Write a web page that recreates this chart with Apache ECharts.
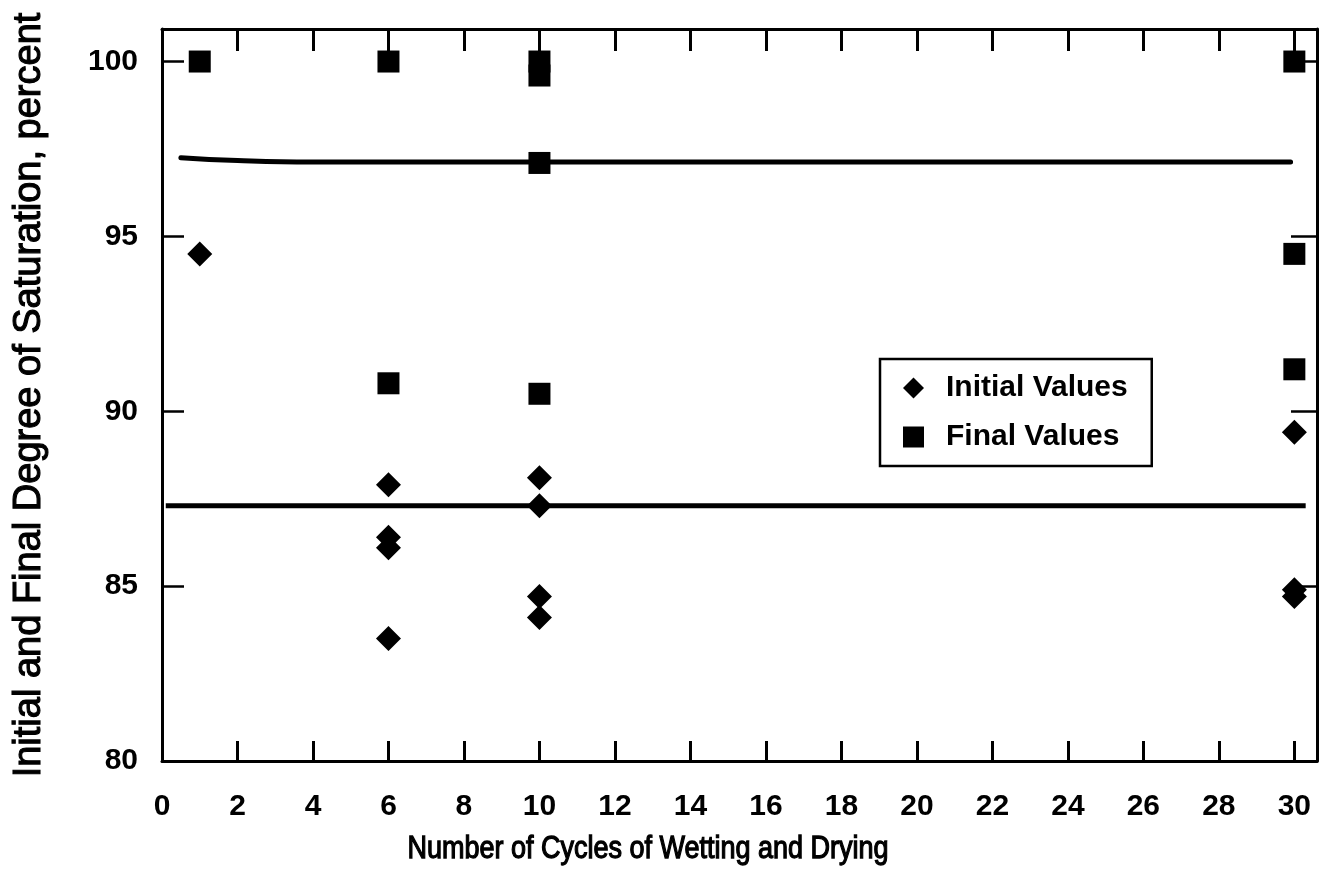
<!DOCTYPE html>
<html>
<head>
<meta charset="utf-8">
<title>Degree of Saturation vs. Wetting and Drying Cycles</title>
<script src="https://cdn.jsdelivr.net/npm/echarts@6/dist/echarts.min.js"></script>
<style>
  html, body { margin: 0; padding: 0; background: #fff; }
  #chart { width: 1322px; height: 881px; }
</style>
</head>
<body>
<div id="chart"></div>
<script>
// Number of wetting/drying cycles and measured degree of saturation (percent)
const initialX = [1, 6, 6, 6, 6, 10, 10, 10, 10, 30, 30, 30];
const initialY = [94.5, 87.9, 86.4, 86.1, 83.5, 88.1, 87.3, 84.7, 84.1, 89.4, 84.9, 84.7];

const finalX = [1, 6, 6, 10, 10, 10, 10, 30, 30, 30];
const finalY = [100, 100, 90.8, 100, 99.6, 97.1, 90.5, 100, 94.5, 91.2];

// Average lines drawn across the plot
const finalMeanLineX = [0.5, 2, 4, 29.9];
const finalMeanLineY = [97.25, 97.17, 97.13, 97.13];
const initialMeanLineX = [0.1, 30.3];
const initialMeanLineY = [87.3, 87.3];

// Axis ranges and tick steps
const xRange = [0, 30.6];
const xStep = 2;
const yRange = [80, 100.93];
const yStep = 5;

const seriesNames = ['Initial Values', 'Final Values'];
const xTitle = 'Number of Cycles of Wetting and Drying';
const yTitle = 'Initial and Final Degree of Saturation, percent';

const pairs = (xs, ys) => xs.map((x, i) => [x, ys[i]]);

const FONT = '"Liberation Sans", Arial, Helvetica, sans-serif';
const INK = '#000';

const frameAxis = (extra) => Object.assign({
  type: 'value',
  splitLine: { show: false },
  axisLine: { show: true, onZero: false, lineStyle: { color: INK, width: 3 } },
  axisTick: { show: true, inside: true, length: 21, lineStyle: { color: INK, width: 3 } }
}, extra);

const tickLabel = {
  show: true, showMaxLabel: false,
  fontFamily: FONT, fontWeight: 'bold', fontSize: 30, color: INK
};

const chart = echarts.init(document.getElementById('chart'), null, { renderer: 'canvas' });

chart.setOption({
  backgroundColor: '#fff',
  animation: false,
  textStyle: { fontFamily: FONT, color: INK },
  grid: { left: 162, top: 29, right: 5, bottom: 120, containLabel: false },
  // x-axis title, set slightly left of the plot centre and drawn a little taller
  graphic: [
    {
      type: 'text',
      x: 648,
      y: 850,
      scaleY: 1.14,
      silent: true,
      style: {
        text: xTitle,
        fontFamily: FONT,
        fontWeight: 'normal',
        fontSize: 27,
        fill: INK,
        stroke: INK,
        lineWidth: 1.1,
        align: 'center',
        verticalAlign: 'middle'
      }
    }
  ],
  legend: {
    orient: 'vertical',
    left: 880,
    top: 359,
    padding: [14, 24, 14, 23],
    itemGap: 19,
    itemWidth: 21,
    itemHeight: 21,
    borderColor: INK,
    borderWidth: 2.5,
    borderRadius: 0,
    backgroundColor: '#fff',
    selectedMode: false,
    textStyle: {
      fontFamily: FONT, fontWeight: 'bold', fontSize: 30, color: INK,
      lineHeight: 30, padding: [0, 0, 0, 17]
    },
    data: [
      { name: seriesNames[0], icon: 'diamond' },
      { name: seriesNames[1], icon: 'rect' }
    ]
  },
  xAxis: [
    frameAxis({
      position: 'bottom',
      min: xRange[0], max: xRange[1], interval: xStep,
      axisTick: { show: true, inside: true, length: 20, lineStyle: { color: INK, width: 3 } },
      axisLabel: Object.assign({ margin: 31 }, tickLabel)
    }),
    frameAxis({
      position: 'top',
      min: xRange[0], max: xRange[1], interval: xStep,
      axisLabel: { show: false },
      axisTick: { show: true, inside: true, length: 22, lineStyle: { color: INK, width: 3 } }
    })
  ],
  yAxis: [
    frameAxis({
      position: 'left',
      min: yRange[0], max: yRange[1], interval: yStep,
      name: yTitle,
      nameLocation: 'middle',
      nameRotate: 90,
      nameGap: 113,
      nameTextStyle: {
        fontFamily: FONT, fontWeight: 'normal', fontSize: 38, color: INK,
        textBorderColor: INK, textBorderWidth: 1.1
      },
      axisTick: { show: true, inside: true, length: 22, lineStyle: { color: INK, width: 2.5 } },
      axisLabel: Object.assign({ margin: 24 }, tickLabel)
    }),
    frameAxis({
      position: 'right',
      min: yRange[0], max: yRange[1], interval: yStep,
      axisLabel: { show: false },
      axisTick: { show: true, inside: true, length: 26, lineStyle: { color: INK, width: 2.5 } }
    })
  ],
  series: [
    {
      type: 'line',
      data: pairs(finalMeanLineX, finalMeanLineY),
      smooth: true,
      showSymbol: false,
      symbol: 'none',
      silent: true,
      lineStyle: { color: INK, width: 5, cap: 'round' },
      z: 2
    },
    {
      type: 'line',
      data: pairs(initialMeanLineX, initialMeanLineY),
      showSymbol: false,
      symbol: 'none',
      silent: true,
      lineStyle: { color: INK, width: 5 },
      z: 2
    },
    {
      name: seriesNames[0],
      type: 'scatter',
      symbol: 'diamond',
      symbolSize: 25,
      itemStyle: { color: INK, opacity: 1 },
      data: pairs(initialX, initialY),
      z: 5
    },
    {
      name: seriesNames[1],
      type: 'scatter',
      symbol: 'rect',
      symbolSize: 22,
      itemStyle: { color: INK, opacity: 1 },
      data: pairs(finalX, finalY),
      z: 5
    }
  ]
});
</script>
</body>
</html>
